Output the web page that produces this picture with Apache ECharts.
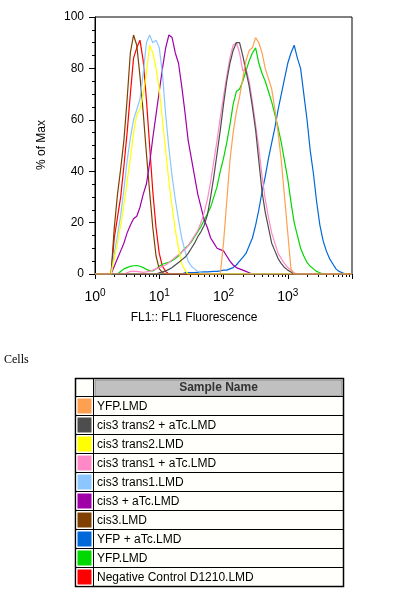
<!DOCTYPE html>
<html>
<head>
<meta charset="utf-8">
<script src="https://cdn.jsdelivr.net/npm/echarts@6/dist/echarts.min.js"></script>
<style>
html, body { margin: 0; padding: 0; background: #fff; }
#main { width: 396px; height: 607px; }
</style>
</head>
<body>
<div id="main"></div>
<script>
// legend / table order (top to bottom)
var sampleNames = ['YFP.LMD', 'cis3 trans2 + aTc.LMD', 'cis3 trans2.LMD', 'cis3 trans1 + aTc.LMD',
    'cis3 trans1.LMD', 'cis3 + aTc.LMD', 'cis3.LMD', 'YFP + aTc.LMD', 'YFP.LMD', 'Negative Control D1210.LMD'];
var sampleColors = ['#ffa050', '#4d4d4d', '#ffff00', '#ff88c8', '#8cc6ff', '#a000a8', '#804000', '#0068d8', '#00d800', '#ff0000'];

// histogram bins, log10 channel step
var binStep = 0.05;
// first bin (log10) of each curve, same order as sampleNames
var binStart = [1.95, 0.95, 0.25, 0.45, 0.25, 0.25, 0.25, 1.35, 0.35, 0.25];

// % of max, read bin by bin
var yfpOrange = [0, 12, 28, 44, 55, 63, 69, 76, 83, 87, 88, 92, 90, 86, 80, 76, 72, 64, 55, 44, 30, 16, 2, 0];
var trans2aTc = [0, 0.5, 0.8, 1.2, 1.8, 2.5, 3.5, 4.5, 5.5, 6.5, 8, 10, 12, 14.5, 16.5, 19, 23, 30, 38, 47, 56, 66,
    75, 82, 87, 90, 90, 85, 79, 73, 65, 56, 44, 32, 24, 18, 12, 9, 6, 4, 2.5, 1.5, 0.8, 0];
var trans2 = [0, 6, 12, 19, 27, 36, 45, 55, 62, 64, 70, 78, 89, 86, 80, 72, 60, 48, 36, 26, 17, 10, 4, 1.5, 0];
var trans1aTc = [0, 0.5, 1, 1, 1, 0.8, 0.6, 0.8, 1, 1.5, 2, 2.5, 3, 3.5, 4.5, 5.5, 6.5, 7.5, 8.5, 9.5, 11, 13, 15,
    17, 20, 24, 29, 36, 44, 52, 61, 69, 77, 84, 89, 90, 86, 79, 80, 75, 67, 58, 49, 38, 29, 22, 16, 12, 8, 6, 4,
    2.5, 1.5, 0.5, 0];
var trans1 = [0, 8, 15, 23, 33, 44, 53, 60, 64, 68, 78, 90, 93, 90, 91, 88, 78, 62, 49, 38, 29, 21, 14, 9, 5, 3,
    2, 1, 0.5, 0];
var cis3aTc = [0, 3, 6, 9, 12, 16, 19, 21.5, 22.5, 26, 31, 35, 43, 53, 62, 71, 80, 88, 93, 92, 86, 82, 73, 63, 52,
    45, 38, 31, 26, 21, 18, 14, 12, 10, 9.5, 9, 7, 5, 3.5, 2.5, 2, 1.5, 1, 0.5, 0];
var cis3 = [0, 18, 31, 41, 52, 68, 86, 93, 89, 77, 63, 47, 32, 18, 7, 2, 0.6, 0];
var yfpaTc = [0, 0.5, 0.5, 0.5, 0.5, 0.6, 0.7, 0.8, 0.8, 0.9, 1, 1, 1.2, 1.5, 1.5, 2, 2.5, 3.5, 5, 6.5, 8, 11, 14,
    19, 25, 32, 38, 45, 51, 57, 64, 70, 76, 82, 86, 89, 84, 80, 70, 60, 48, 39, 28, 19, 13, 9, 6, 4, 2, 1, 0.5, 0];
var yfpGreen = [0, 1, 2, 2.5, 3, 3.2, 3.3, 3, 2.5, 1.8, 1.3, 1.2, 2, 3, 3.8, 4.2, 4.5, 5.2, 6, 7, 8.5, 10, 11, 12.5,
    14.5, 16.5, 18.5, 21, 23.5, 26, 30, 34, 40, 45, 51, 58, 66, 71, 72, 75, 79, 83, 86, 88, 82, 78, 75, 71, 67, 62,
    57, 51, 44, 37, 28, 20, 15, 10, 7, 4.5, 3, 2, 1, 0.5, 0];
var negControl = [0, 14, 22, 30, 42, 55, 70, 84, 88, 91, 83, 68, 50, 32, 18, 8, 3, 1, 0];

var curveValues = [yfpOrange, trans2aTc, trans2, trans1aTc, trans1, cis3aTc, cis3, yfpaTc, yfpGreen, negControl];

var decadeLabels = ['0', '1', '2', '3'];
var xMin = 1, xMax = 10000;

function buildCurve(k) {
    var pts = [[xMin, 0]];
    curveValues[k].forEach(function (v, i) {
        pts.push([Math.pow(10, binStart[k] + i * binStep), v]);
    });
    pts.push([xMax, 0]);
    return pts;
}

// minor ticks of the log axis (2..9 in each decade)
var minorTicks = [];
for (var d = 0; d < 4; d++) {
    for (var m = 2; m <= 9; m++) {
        minorTicks.push([m * Math.pow(10, d), 0]);
    }
}

var chart = echarts.init(document.getElementById('main'), null, { renderer: 'canvas' });

var series = [];
// drawn bottom of the list first, so the first names end up on top
for (var k = sampleNames.length - 1; k >= 0; k--) {
    series.push({
        name: sampleNames[k] + k,
        type: 'line',
        data: buildCurve(k),
        showSymbol: false,
        symbol: 'none',
        lineStyle: { color: sampleColors[k], width: 1.2 },
        itemStyle: { color: sampleColors[k] },
        silent: true
    });
}
series.push({
    type: 'custom',
    silent: true,
    clip: false,
    data: minorTicks,
    renderItem: function (params, api) {
        var p = api.coord([api.value(0), 0]);
        var x = Math.round(p[0]) + 0.5;
        return {
            type: 'line',
            shape: { x1: x, y1: p[1], x2: x, y2: p[1] + 3 },
            style: { stroke: '#000', lineWidth: 1 }
        };
    }
});

// legend table
var tblLeft = 75.5, tblTop = 378.5, tblW = 268, rowH = 19, swatchW = 18;
var graphics = [];
graphics.push({
    type: 'text', left: 4, top: 354,
    style: { text: 'Cells', font: '12px "Liberation Serif", serif', fill: '#000' }
});
graphics.push({
    type: 'text', x: 194, y: 318,
    style: { text: 'FL1:: FL1 Fluorescence', font: '12px "Liberation Sans", Arial, sans-serif', fill: '#000',
        textAlign: 'center', textVerticalAlign: 'middle' }
});
graphics.push({
    type: 'text', x: 42, y: 145, rotation: Math.PI / 2,
    style: { text: '% of Max', font: '12px "Liberation Sans", Arial, sans-serif', fill: '#000',
        textAlign: 'center', textVerticalAlign: 'middle' }
});
var tblH = rowH * (sampleNames.length + 1) - 1;
graphics.push({
    type: 'rect',
    shape: { x: tblLeft, y: tblTop, width: tblW, height: tblH },
    style: { fill: '#fffffb', stroke: '#000', lineWidth: 1.5 }
});
graphics.push({
    type: 'rect',
    shape: { x: tblLeft + swatchW + 1.5, y: tblTop + 1.5, width: tblW - swatchW - 3, height: rowH - 3 },
    style: { fill: '#c0c0c0', stroke: '#8a8a8a', lineWidth: 1 }
});
graphics.push({
    type: 'text', x: tblLeft + swatchW + (tblW - swatchW) / 2, y: tblTop + rowH / 2,
    style: { text: 'Sample Name', font: 'bold 12px "Liberation Sans", Arial, sans-serif', fill: '#333',
        textAlign: 'center', textVerticalAlign: 'middle' }
});
graphics.push({
    type: 'line',
    shape: { x1: tblLeft + swatchW, y1: tblTop, x2: tblLeft + swatchW, y2: tblTop + tblH },
    style: { stroke: '#000', lineWidth: 1 }
});
sampleNames.forEach(function (name, i) {
    var rowTop = tblTop + 18 + i * rowH;
    graphics.push({
        type: 'line',
        shape: { x1: tblLeft, y1: rowTop, x2: tblLeft + tblW, y2: rowTop },
        style: { stroke: '#000', lineWidth: 1 }
    });
    graphics.push({
        type: 'rect',
        shape: { x: tblLeft + 1.5, y: rowTop + 1.5, width: 15, height: 16 },
        style: { fill: sampleColors[i], stroke: '#fff', lineWidth: 1 }
    });
    graphics.push({
        type: 'text', x: tblLeft + swatchW + 3.5, y: rowTop + rowH / 2 + 0.5,
        style: { text: name, font: '12px "Liberation Sans", Arial, sans-serif', fill: '#000',
            textVerticalAlign: 'middle' }
    });
});

var option = {
    backgroundColor: '#ffffff',
    animation: false,
    grid: {
        show: true, left: 95, top: 17, width: 257, height: 257,
        borderColor: '#000', borderWidth: 1, backgroundColor: 'transparent'
    },
    xAxis: {
        type: 'log', logBase: 10, min: xMin, max: xMax, splitNumber: 4,
        axisLine: { show: true, lineStyle: { color: '#000', width: 1 } },
        axisTick: { show: true, length: 5, lineStyle: { color: '#000' } },
        splitLine: { show: false },
        axisLabel: {
            margin: 14,
            formatter: function (v) {
                var e = Math.round(Math.log10(v));
                if (e < 0 || e >= decadeLabels.length) return '';
                return '{b|10}{s|' + decadeLabels[e] + '}';
            },
            rich: {
                b: { fontSize: 14, fontFamily: '"Liberation Sans", Arial, sans-serif', color: '#000', lineHeight: 18 },
                s: { fontSize: 10, fontFamily: '"Liberation Sans", Arial, sans-serif', color: '#000', lineHeight: 4, verticalAlign: 'top' }
            }
        }
    },
    yAxis: {
        type: 'value', min: 0, max: 100, interval: 20,
        axisLine: { show: true, lineStyle: { color: '#000', width: 1 } },
        axisTick: { show: true, length: 6, lineStyle: { color: '#000' } },
        minorTick: { show: true, splitNumber: 4, length: 3, lineStyle: { color: '#000' } },
        splitLine: { show: false },
        axisLabel: {
            margin: 11, color: '#000', fontSize: 12,
            fontFamily: '"Liberation Sans", Arial, sans-serif'
        }
    },
    series: series,
    graphic: graphics
};

chart.setOption(option);
</script>
</body>
</html>
